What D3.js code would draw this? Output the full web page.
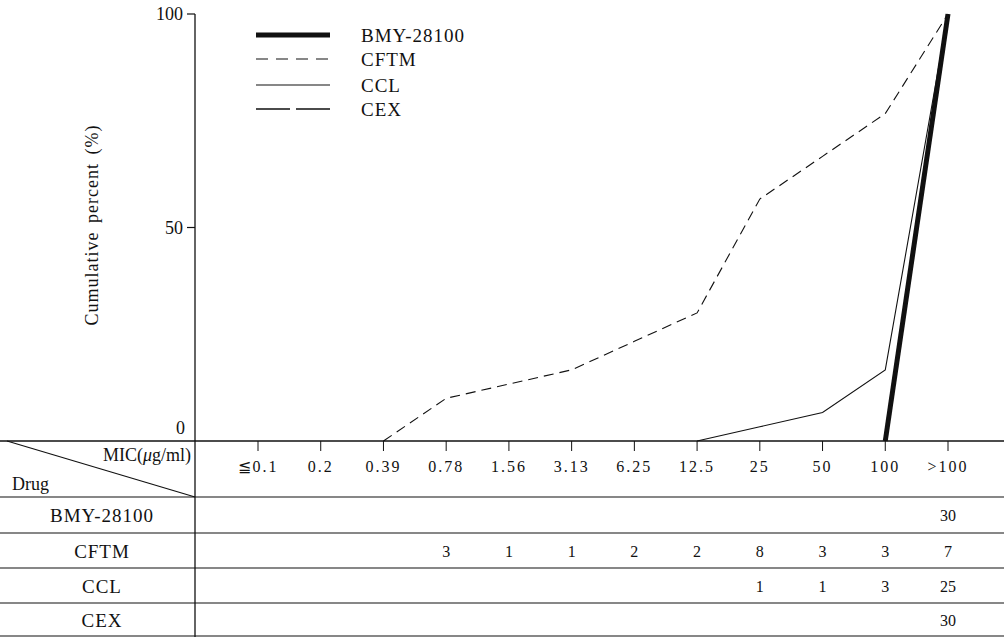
<!DOCTYPE html>
<html>
<head>
<meta charset="utf-8">
<script src="https://cdn.jsdelivr.net/npm/d3@7"></script>
<style>
  body { margin: 0; background: #fff; }
  text { font-family: "Liberation Serif", "DejaVu Serif", serif; fill: #111; }
</style>
</head>
<body>
<script>
var w = 1004;
var h = 637;

// MIC categories (ug/ml)
var mics = ["≦0.1", "0.2", "0.39", "0.78", "1.56", "3.13", "6.25", "12.5", "25", "50", "100", ">100"];
var drugs = ["BMY-28100", "CFTM", "CCL", "CEX"];

// number of strains at each MIC (table rows)
var bmyCounts  = [0, 0, 0, 0, 0, 0, 0, 0, 0, 0, 0, 30];
var cftmCounts = [0, 0, 0, 3, 1, 1, 2, 2, 8, 3, 3, 7];
var cclCounts  = [0, 0, 0, 0, 0, 0, 0, 0, 1, 1, 3, 25];
var cexCounts  = [0, 0, 0, 0, 0, 0, 0, 0, 0, 0, 0, 30];

var yTicks = [0, 50, 100];

var svg = d3.select("body")
            .append("svg")
              .attr("width", w)
              .attr("height", h);

var x = d3.scalePoint().domain(mics).range([258, 948]);
var y = d3.scaleLinear().domain([0, 100]).range([441, 14]);

// cumulative percent, starting at the last MIC with 0%
function cumulative(counts) {
  var total = d3.sum(counts);
  var run = 0;
  var pts = counts.map(function(c, i) {
    run += c;
    return { mic: mics[i], pct: run / total * 100 };
  });
  var first = pts.findIndex(function(p) { return p.pct > 0; });
  return pts.slice(Math.max(0, first - 1));
}

var series = [
  { name: "BMY-28100", counts: bmyCounts,  width: 5,   dash: null,   legDash: null },
  { name: "CFTM",      counts: cftmCounts, width: 1.1, dash: "10,6", legDash: "12,8" },
  { name: "CCL",       counts: cclCounts,  width: 1.1, dash: null,   legDash: null },
  { name: "CEX",       counts: cexCounts,  width: 1.6, dash: "28,9", legDash: "34,6" }
];

var line = d3.line()
  .x(function(d) { return x(d.mic); })
  .y(function(d) { return y(d.pct); });

// y axis
svg.append("line")
  .attr("x1", 195).attr("x2", 195)
  .attr("y1", y(100)).attr("y2", h)
  .attr("stroke", "#111").attr("stroke-width", 1.3);

yTicks.forEach(function(t) {
  if (t > 0) {
    svg.append("line")
      .attr("x1", 187).attr("x2", 195)
      .attr("y1", y(t)).attr("y2", y(t))
      .attr("stroke", "#111").attr("stroke-width", 1.2);
  }
  svg.append("text")
    .attr("x", t === 0 ? 185 : 183)
    .attr("y", t === 0 ? y(t) - 7 : y(t) + 6)
    .attr("text-anchor", "end")
    .style("font-size", "18px")
    .text(t);
});

svg.append("text")
  .attr("transform", "translate(98,225) rotate(-90)")
  .attr("text-anchor", "middle")
  .style("font-size", "18px")
  .style("letter-spacing", "1px")
  .style("word-spacing", "3px")
  .text("Cumulative percent (%)");

// baseline / x axis
svg.append("line")
  .attr("x1", 0).attr("x2", w)
  .attr("y1", y(0)).attr("y2", y(0))
  .attr("stroke", "#111").attr("stroke-width", 1.3);

svg.selectAll(".xtick")
  .data(mics)
  .enter()
  .append("line")
    .attr("x1", function(d) { return x(d); })
    .attr("x2", function(d) { return x(d); })
    .attr("y1", y(0))
    .attr("y2", y(0) + 10)
    .attr("stroke", "#111");

svg.selectAll(".xlab")
  .data(mics)
  .enter()
  .append("text")
    .attr("x", function(d) { return x(d); })
    .attr("y", 472)
    .attr("text-anchor", "middle")
    .style("font-size", "16px")
    .style("letter-spacing", "2px")
    .text(function(d) { return d; });

// table
var rowLines = [497, 533, 568, 603, 636];
rowLines.forEach(function(ry) {
  svg.append("line")
    .attr("x1", 0).attr("x2", w)
    .attr("y1", ry).attr("y2", ry)
    .attr("stroke", "#111").attr("stroke-width", 1.2);
});

svg.append("line")
  .attr("x1", 7).attr("y1", y(0))
  .attr("x2", 195).attr("y2", 497)
  .attr("stroke", "#111").attr("stroke-width", 1.2);

svg.append("text")
  .attr("x", 191).attr("y", 461)
  .attr("text-anchor", "end")
  .style("font-size", "18px")
  .html("MIC(<tspan font-style='italic'>μ</tspan>g/ml)");

svg.append("text")
  .attr("x", 12).attr("y", 490)
  .style("font-size", "18px")
  .text("Drug");

series.forEach(function(s, r) {
  var cy = (rowLines[r] + rowLines[r + 1]) / 2 + 7;
  svg.append("text")
    .attr("x", 102).attr("y", cy)
    .attr("text-anchor", "middle")
    .style("font-size", "19px")
    .style("letter-spacing", "1px")
    .text(s.name);

  svg.selectAll(".cnt" + r)
    .data(s.counts.map(function(c, i) { return { mic: mics[i], c: c }; })
                  .filter(function(d) { return d.c > 0; }))
    .enter()
    .append("text")
      .attr("x", function(d) { return x(d.mic); })
      .attr("y", cy - 1)
      .attr("text-anchor", "middle")
      .style("font-size", "16px")
      .text(function(d) { return d.c; });
});

// cumulative lines
series.forEach(function(s) {
  svg.append("path")
    .datum(cumulative(s.counts))
    .attr("d", line)
    .attr("fill", "none")
    .attr("stroke", "#111")
    .attr("stroke-width", s.width)
    .attr("stroke-dasharray", s.dash);
});

// legend
var legY = [35, 59, 85, 109];
series.forEach(function(s, i) {
  svg.append("line")
    .attr("x1", 256).attr("x2", 330)
    .attr("y1", legY[i]).attr("y2", legY[i])
    .attr("stroke", "#111")
    .attr("stroke-width", s.width)
    .attr("stroke-dasharray", s.legDash);
  svg.append("text")
    .attr("x", 361).attr("y", legY[i] + 7)
    .style("font-size", "19px")
    .style("letter-spacing", "1px")
    .text(s.name);
});
</script>
</body>
</html>
